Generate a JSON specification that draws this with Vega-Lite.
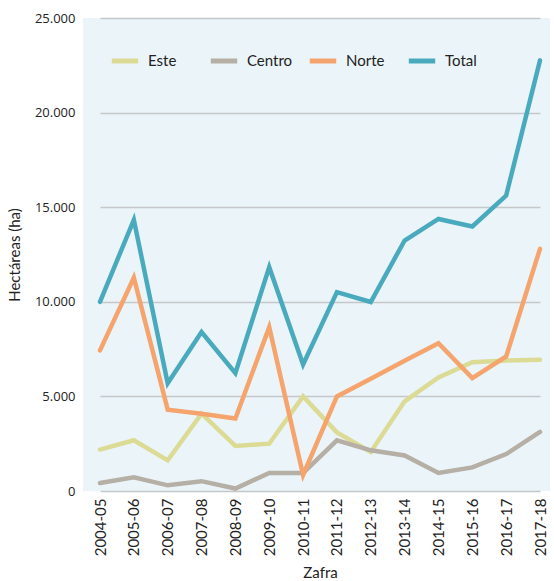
{
  "$schema": "https://vega.github.io/schema/vega-lite/v6.json",
  "width": 467,
  "height": 473,
  "autosize": {"type": "none"},
  "padding": {"left": 83, "top": 18, "right": 4, "bottom": 90},
  "background": "white",
  "config": {
    "view": {"fill": "#EBF5F9", "stroke": null},
    "font": "Lato"
  },
  "data": {
    "values": [
      {"zafra": "2004-05", "region": "Este", "ha": 2190},
      {"zafra": "2005-06", "region": "Este", "ha": 2680},
      {"zafra": "2006-07", "region": "Este", "ha": 1620},
      {"zafra": "2007-08", "region": "Este", "ha": 4090},
      {"zafra": "2008-09", "region": "Este", "ha": 2380},
      {"zafra": "2009-10", "region": "Este", "ha": 2500},
      {"zafra": "2010-11", "region": "Este", "ha": 5000},
      {"zafra": "2011-12", "region": "Este", "ha": 3100},
      {"zafra": "2012-13", "region": "Este", "ha": 2060},
      {"zafra": "2013-14", "region": "Este", "ha": 4740},
      {"zafra": "2014-15", "region": "Este", "ha": 6000},
      {"zafra": "2015-16", "region": "Este", "ha": 6810},
      {"zafra": "2016-17", "region": "Este", "ha": 6900},
      {"zafra": "2017-18", "region": "Este", "ha": 6940},
      {"zafra": "2004-05", "region": "Centro", "ha": 420},
      {"zafra": "2005-06", "region": "Centro", "ha": 720},
      {"zafra": "2006-07", "region": "Centro", "ha": 300},
      {"zafra": "2007-08", "region": "Centro", "ha": 520},
      {"zafra": "2008-09", "region": "Centro", "ha": 130},
      {"zafra": "2009-10", "region": "Centro", "ha": 950},
      {"zafra": "2010-11", "region": "Centro", "ha": 950},
      {"zafra": "2011-12", "region": "Centro", "ha": 2680},
      {"zafra": "2012-13", "region": "Centro", "ha": 2150},
      {"zafra": "2013-14", "region": "Centro", "ha": 1880},
      {"zafra": "2014-15", "region": "Centro", "ha": 950},
      {"zafra": "2015-16", "region": "Centro", "ha": 1250},
      {"zafra": "2016-17", "region": "Centro", "ha": 1950},
      {"zafra": "2017-18", "region": "Centro", "ha": 3120},
      {"zafra": "2004-05", "region": "Norte", "ha": 7430},
      {"zafra": "2005-06", "region": "Norte", "ha": 11270},
      {"zafra": "2006-07", "region": "Norte", "ha": 4300},
      {"zafra": "2007-08", "region": "Norte", "ha": 4080},
      {"zafra": "2008-09", "region": "Norte", "ha": 3830},
      {"zafra": "2009-10", "region": "Norte", "ha": 8660},
      {"zafra": "2010-11", "region": "Norte", "ha": 850},
      {"zafra": "2011-12", "region": "Norte", "ha": 5000},
      {"zafra": "2012-13", "region": "Norte", "ha": 5930},
      {"zafra": "2013-14", "region": "Norte", "ha": 6880},
      {"zafra": "2014-15", "region": "Norte", "ha": 7810},
      {"zafra": "2015-16", "region": "Norte", "ha": 5970},
      {"zafra": "2016-17", "region": "Norte", "ha": 7110},
      {"zafra": "2017-18", "region": "Norte", "ha": 12800},
      {"zafra": "2004-05", "region": "Total", "ha": 10000},
      {"zafra": "2005-06", "region": "Total", "ha": 14330},
      {"zafra": "2006-07", "region": "Total", "ha": 5700},
      {"zafra": "2007-08", "region": "Total", "ha": 8400},
      {"zafra": "2008-09", "region": "Total", "ha": 6230},
      {"zafra": "2009-10", "region": "Total", "ha": 11830},
      {"zafra": "2010-11", "region": "Total", "ha": 6690},
      {"zafra": "2011-12", "region": "Total", "ha": 10510},
      {"zafra": "2012-13", "region": "Total", "ha": 9990},
      {"zafra": "2013-14", "region": "Total", "ha": 13240},
      {"zafra": "2014-15", "region": "Total", "ha": 14380},
      {"zafra": "2015-16", "region": "Total", "ha": 13980},
      {"zafra": "2016-17", "region": "Total", "ha": 15610},
      {"zafra": "2017-18", "region": "Total", "ha": 22760}
    ]
  },
  "mark": {"type": "line", "strokeWidth": 4.5, "strokeCap": "round", "strokeJoin": "miter"},
  "encoding": {
    "x": {
      "field": "zafra",
      "type": "ordinal",
      "scale": {"type": "point", "range": [17, 457], "padding": 0},
      "axis": {
        "title": "Zafra",
        "titleFont": "Lato",
        "titleFontSize": 15,
        "titleFontWeight": "normal",
        "titleColor": "#222222",
        "titlePadding": 10,
        "labelAngle": -90,
        "labelFont": "Lato",
        "labelFontSize": 15,
        "labelColor": "#222222",
        "labelPadding": 7,
        "ticks": false,
        "domain": false,
        "grid": false
      }
    },
    "y": {
      "field": "ha",
      "type": "quantitative",
      "scale": {"domain": [0, 25000], "nice": false},
      "axis": {
        "title": "Hectáreas (ha)",
        "titleFont": "Lato",
        "titleFontSize": 15,
        "titleFontWeight": "normal",
        "titleColor": "#222222",
        "titlePadding": 12,
        "values": [0, 5000, 10000, 15000, 20000, 25000],
        "labelExpr": "replace(format(datum.value, ','), ',', '.')",
        "labelFont": "Open Sans",
        "labelFontSize": 13,
        "labelColor": "#222222",
        "labelPadding": 8,
        "ticks": false,
        "domain": false,
        "grid": true,
        "gridColor": "#C4C8CA",
        "gridWidth": 1.5
      }
    },
    "color": {
      "field": "region",
      "type": "nominal",
      "sort": ["Este", "Centro", "Norte", "Total"],
      "scale": {
        "domain": ["Este", "Centro", "Norte", "Total"],
        "range": ["#DCDB95", "#B5AFA6", "#F4A46C", "#4AAABD"]
      },
      "legend": {
        "title": null,
        "orient": "none",
        "legendX": 26,
        "legendY": 27,
        "direction": "horizontal",
        "columns": 4,
        "gridAlign": "all",
        "symbolType": "stroke",
        "symbolSize": 700,
        "symbolStrokeWidth": 5,
        "labelFont": "Lato",
        "labelFontSize": 15,
        "labelFontWeight": "normal",
        "labelColor": "#222222",
        "labelOffset": 7,
        "columnPadding": 6,
        "labelLimit": 200
      }
    }
  }
}
